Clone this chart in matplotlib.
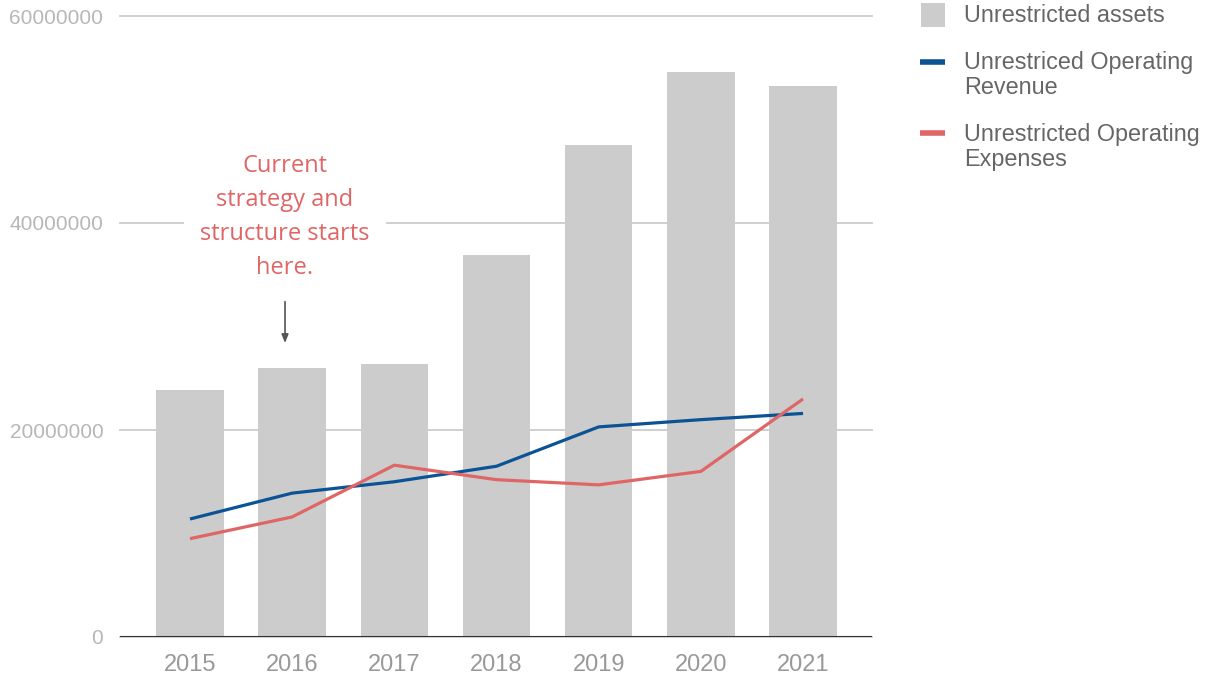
import matplotlib.pyplot as plt
from matplotlib.patches import Rectangle
from matplotlib.lines import Line2D

years = ["2015", "2016", "2017", "2018", "2019", "2020", "2021"]
assets = [23.9e6, 26.0e6, 26.4e6, 36.9e6, 47.5e6, 54.6e6, 53.2e6]
revenue = [11.4e6, 13.9e6, 15.0e6, 16.5e6, 20.3e6, 21.0e6, 21.6e6]
expenses = [9.5e6, 11.6e6, 16.6e6, 15.2e6, 14.7e6, 16.0e6, 23.0e6]
yticks = [0, 20000000, 40000000, 60000000]

GRAY_BAR = "#cccccc"
BLUE = "#0b5394"
RED = "#e06666"

W, H = 1207, 677
fig = plt.figure(figsize=(W / 100, H / 100), dpi=100)
ax = fig.add_axes([120 / W, (H - 637) / H, (872 - 120) / W, (637 - 16) / H])

x = list(range(len(years)))
ax.bar(x, assets, width=0.66, color=GRAY_BAR, zorder=2)
ax.plot(x, revenue, color=BLUE, lw=2.3, zorder=3, solid_capstyle="butt")
ax.plot(x, expenses, color=RED, lw=2.3, zorder=3, solid_capstyle="butt")

ax.set_xlim(-0.685, 6.675)
ax.set_ylim(0, 60e6)
ax.set_yticks(yticks)
ax.set_yticklabels([str(v) for v in yticks])
ax.set_xticks(x)
ax.set_xticklabels(years)

for s in ax.spines.values():
    s.set_visible(False)
ax.axhline(0, color="#333333", lw=1.5, zorder=4)
ax.yaxis.grid(True, color="#cccccc", lw=1.3, zorder=0)
ax.set_axisbelow(True)
for gl in ax.get_ygridlines():
    gl.set_clip_on(False)

ax.tick_params(axis="both", length=0)
ax.tick_params(axis="y", pad=12, labelsize=15, labelcolor="#b7b7b7")
ax.tick_params(axis="x", pad=12, labelsize=17, labelcolor="#999999")
for lab in ax.get_xticklabels() + ax.get_yticklabels():
    lab.set_fontfamily("Liberation Sans")

# annotation
ax.text(0.93, 40.6e6, "Current\nstrategy and\nstructure starts\nhere.",
        ha="center", va="center", color=RED, fontsize=17, family="Open Sans",
        linespacing=1.55, zorder=5,
        bbox=dict(boxstyle="square,pad=0.7", fc="white", ec="none"))
ax.annotate("", xy=(0.93, 28.4e6), xytext=(0.93, 32.4e6),
            arrowprops=dict(arrowstyle="-|>,head_length=0.5,head_width=0.2",
                            color="#555555", lw=1.2, shrinkA=0, shrinkB=0),
            zorder=5)

# legend
def fx(px):
    return px / W

def fy(py):
    return (H - py) / H

fig.add_artist(Rectangle((fx(921), fy(27)), 24 / W, 24 / H, transform=fig.transFigure,
                         fc=GRAY_BAR, ec="none"))
fig.add_artist(Line2D([fx(920), fx(945)], [fy(62), fy(62)], transform=fig.transFigure,
                      color=BLUE, lw=4, solid_capstyle="butt"))
fig.add_artist(Line2D([fx(920), fx(945)], [fy(133), fy(133)], transform=fig.transFigure,
                      color=RED, lw=4, solid_capstyle="butt"))
leg_kw = dict(ha="left", va="center", fontsize=16.8, color="#666666",
              family="Liberation Sans", linespacing=1.12)
fig.text(fx(964), fy(15), "Unrestricted assets", **leg_kw)
fig.text(fx(964), fy(75), "Unrestriced Operating\nRevenue", **leg_kw)
fig.text(fx(964), fy(147), "Unrestricted Operating\nExpenses", **leg_kw)

fig.savefig("out.png", dpi=100)
